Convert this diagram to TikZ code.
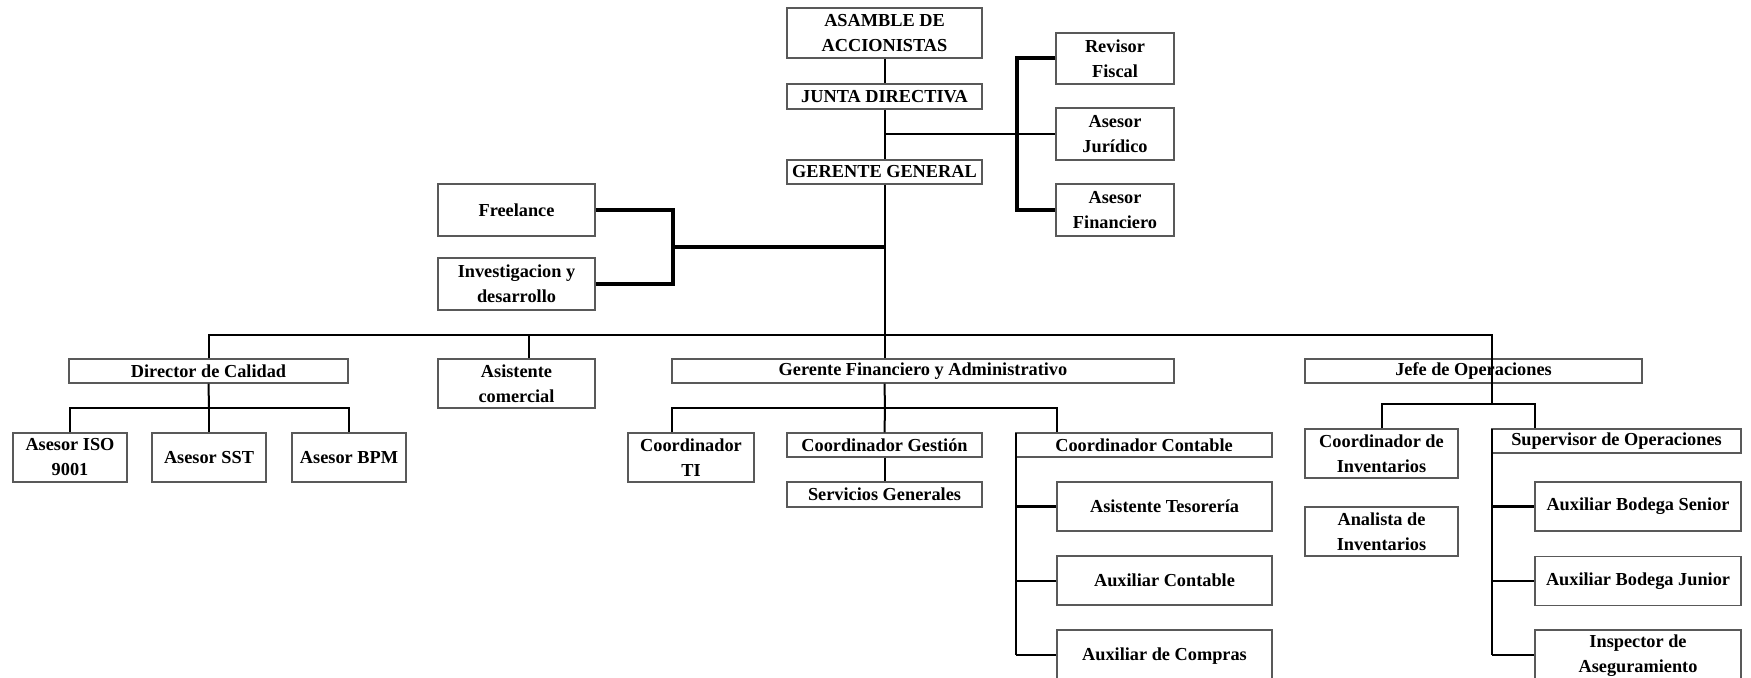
\documentclass[tikz,border=0pt]{standalone}
\usepackage{fontspec}
\setmainfont{Liberation Serif}
\usetikzlibrary{calc}
\begin{document}
\begin{tikzpicture}[x=0.5pt,y=-0.5pt,
  box/.style={draw=black!65, line width=0.6pt, fill=white, inner sep=0pt, align=center,
              font=\fontsize{9.15}{12.5}\selectfont\bfseries},
  wh/.style 2 args={minimum width=#1*0.5pt, minimum height=#2*0.5pt},
  lnthin/.style={line width=1pt, line join=miter},
  lnmid/.style={line width=1.4pt, line join=miter},
  lnthick/.style={line width=2pt, line join=miter}]
\useasboundingbox (0,0) rectangle (1751,678);

% top chain
\node[box, wh={195}{50}] (asam) at (884.5,33) {ASAMBLE DE\\ACCIONISTAS};
\node[box, wh={195}{25}] (junta) at (884.5,96.5) {JUNTA DIRECTIVA};
\node[box, wh={195}{24}] (gg) at (884.5,172) {GERENTE GENERAL};

% advisors
\node[box, wh={118}{51}] (rev) at (1115,58.5) {Revisor\\Fiscal};
\node[box, wh={118}{52}] (jur) at (1115,134) {Asesor\\Jurídico};
\node[box, wh={118}{52}] (afin) at (1115,210) {Asesor\\Financiero};

% left staff
\node[box, wh={157}{52}] (free) at (516.5,210) {Freelance};
\node[box, wh={157}{52}] (inv) at (516.5,284) {Investigacion y\\desarrollo};

% second level
\node[box, wh={279}{24}] (dir) at (208.5,371) {Director de Calidad};
\node[box, wh={157}{49}] (asis) at (516.5,383.5) {Asistente\\comercial};
\node[box, wh={502}{24}] (gfa) at (923,371) {Gerente Financiero y Administrativo};
\node[box, wh={337}{24}] (jefe) at (1473.5,371) {Jefe de Operaciones};

% quality
\node[box, wh={114}{49}] (iso) at (70,457.5) {Asesor ISO\\9001};
\node[box, wh={114}{49}] (sst) at (209,457.5) {Asesor SST};
\node[box, wh={114}{49}] (bpm) at (349,457.5) {Asesor BPM};

% finance
\node[box, wh={126}{49}] (cti) at (691,457.5) {Coordinador\\TI};
\node[box, wh={195}{24}] (cges) at (884.5,445) {Coordinador Gestión};
\node[box, wh={195}{25}] (serv) at (884.5,494.5) {Servicios Generales};
\node[box, wh={256}{24}] (ccont) at (1144,445) {Coordinador Contable};
\node[box, wh={215}{49}] (teso) at (1164.5,506.5) {Asistente Tesorería};
\node[box, wh={215}{49}] (auxc) at (1164.5,580.5) {Auxiliar Contable};
\node[box, wh={215}{52}] (comp) at (1164.5,656) {Auxiliar de Compras};

% operations
\node[box, wh={153}{49}] (cinv) at (1381.5,453.5) {Coordinador de\\Inventarios};
\node[box, wh={153}{49}] (anal) at (1381.5,531.5) {Analista de\\Inventarios};
\node[box, wh={249}{24}] (sup) at (1616.5,441) {Supervisor de Operaciones};
\node[box, wh={206}{49}] (sen) at (1638,506.5) {Auxiliar Bodega Senior};
\node[box, wh={206}{49}] (jun) at (1638,581) {Auxiliar Bodega Junior};
\node[box, wh={206}{52}] (insp) at (1638,656) {Inspector de\\Aseguramiento};

% coordinates
\coordinate (jm) at (885,134);
\coordinate (bx) at (1017,134);
\coordinate (fb) at (673,247);
\coordinate (fm) at (885,247);
\coordinate (busL) at (209,335);
\coordinate (busR) at (1492,335);
\coordinate (asisB) at (529,335);
\coordinate (dirB) at (209,408);
\coordinate (dirL) at (70,408);
\coordinate (dirR) at (349,408);
\coordinate (gfB) at (885,408);
\coordinate (gfL) at (672,408);
\coordinate (gfR) at (1057,408);
\coordinate (ccV) at (1016,433);
\coordinate (ccE) at (1016,655);
\coordinate (jB) at (1492,404);
\coordinate (jL) at (1382,404);
\coordinate (jR) at (1535,404);
\coordinate (spV) at (1492,429);
\coordinate (spE) at (1492,655);

% top connectors
\draw[lnthin] (asam.south) -- (junta.north);
\draw[lnthin] (junta.south) -- (gg.north);
\draw[lnmid] (jm) -- (jur.west);
\draw[lnthick] (rev.west) -| (bx) |- (afin.west);
\draw[lnthick] (free.east) -| (fb) |- (inv.east);
\draw[lnthick] (fb) -- (fm);
\draw[lnthin] (gg.south) -- (gg.south |- gfa.north);

% main bus
\draw[lnthin] (dir.north) |- (busL) -- (busR) -- (jB);
\draw[lnthin] (asisB) -- (asisB |- asis.north);

% quality
\draw[lnthin] (dir.south) -- (dirB);
\draw[lnthin] (iso.north) |- (dirL) -- (dirR) -| (bpm.north);
\draw[lnthin] (dirB) -- (sst.north);

% finance
\draw[lnthin] (gg.south |- gfa.south) -- (gfB);
\draw[lnthin] (cti.north -| gfL) -- (gfL) -- (gfR) -- (gfR |- ccont.north);
\draw[lnthin] (gfB) -- (cges.north);
\draw[lnthin] (cges.south) -- (serv.north);
\draw[lnthin] (ccV) -- (ccE);
\draw[lnthin] (ccV |- teso.west) -- (teso.west);
\draw[lnthin] (ccV |- auxc.west) -- (auxc.west);
\draw[lnthin] (ccE) -- (ccE -| comp.west);

% operations
\draw[lnthin] (cinv.north) |- (jL) -- (jR) -- (jR |- sup.north);
\draw[lnthin] (spV) -- (spE);
\draw[lnthin] (spV |- sen.west) -- (sen.west);
\draw[lnthin] (spV |- jun.west) -- (jun.west);
\draw[lnthin] (spE) -- (spE -| insp.west);
\end{tikzpicture}
\end{document}
